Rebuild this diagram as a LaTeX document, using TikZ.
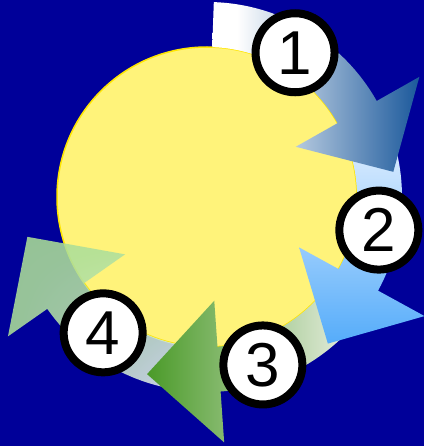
\documentclass[tikz,border=0pt]{standalone}
\usepackage{fontspec}
\setmainfont{Liberation Sans}
\usetikzlibrary{calc,shadings}

\definecolor{bgblue}{RGB}{0,0,153}
\definecolor{sunfill}{RGB}{255,243,122}
\definecolor{sunline}{RGB}{255,230,0}
\definecolor{oneblue}{RGB}{26,88,155}
\definecolor{twotop}{RGB}{240,246,255}
\definecolor{twobot}{RGB}{85,172,250}
\definecolor{threegreen}{RGB}{74,154,40}
\definecolor{threepale}{RGB}{236,240,230}
\definecolor{fourgreen}{RGB}{170,222,150}
\definecolor{fourpale}{RGB}{232,238,248}

\pgfdeclarehorizontalshading{oneshade}{100bp}{color(0bp)=(white); color(31bp)=(white); color(75bp)=(oneblue); color(100bp)=(oneblue)}

\begin{document}
\begin{tikzpicture}[
x=1pt,y=1pt,
sun/.style={draw=sunline,line width=1.5pt,fill=sunfill},
num/.style={
circle,
draw,
line width=8pt,
fill=white,
minimum size=79pt,
inner sep=0pt,
font=\fontsize{62}{62}\selectfont},
arrowone/.style={shading=oneshade},
arrowtwo/.style={top color=twotop,bottom color=twobot},
arrowthree/.style={left color=threegreen,right color=threepale},
arrowfour/.style={upper left=fourgreen,upper right=fourgreen,lower left=fourgreen,lower right=fourpale,fill opacity=.88}
]

\useasboundingbox (0,0) rectangle (424,-446);
\fill[bgblue] (0,0) rectangle (424,-446);

\coordinate (c) at (207,-197);
\draw[sun] (c) circle[radius=150pt];

\begin{scope}[shift={(c)}]
% four curved arrows, last one first
\shade[arrowfour] (-100:150pt) arc[start angle=-100,end angle=-145,radius=150pt]
  -- (-145:100pt) -- (-167.5:184pt) -- (-145:243pt) -- (-145:195pt)
  arc[start angle=-145,end angle=-100,radius=195pt] -- cycle;
\shade[arrowthree] (-40:150pt) arc[start angle=-40,end angle=-86,radius=150pt]
  -- (-86:104pt) -- (-108.7:187pt) -- (-86:246pt) -- (-86:195pt)
  arc[start angle=-86,end angle=-40,radius=195pt] -- cycle;
\shade[arrowtwo] (25:150pt) arc[start angle=25,end angle=-28.7,radius=150pt]
  -- (-28.7:105pt) -- (-50.5:190pt) -- (-28.7:248pt) -- (-28.7:195pt)
  arc[start angle=-28.7,end angle=25,radius=195pt] -- cycle;
\shade[arrowone] (88:150pt) arc[start angle=88,end angle=29.5,radius=150pt]
  -- (29.5:102pt) -- (7.7:188pt) -- (29.5:244pt) -- (29.5:195pt)
  arc[start angle=29.5,end angle=88,radius=195pt] -- cycle;

\foreach \n/\a/\r in {1/58.6/169,2/-10.9/175,3/-71.6/177,4/-127.4/171}{
\node[num] (num\n) at (\a:\r) {\n};
}
\end{scope}

\end{tikzpicture}
\end{document}
